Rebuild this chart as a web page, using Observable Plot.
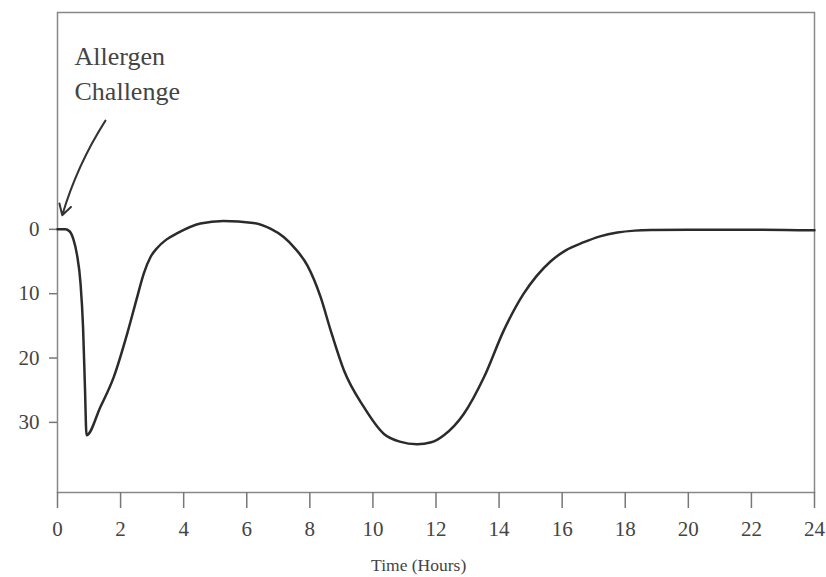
<!DOCTYPE html>
<html>
<head>
<meta charset="utf-8">
<script src="https://cdn.jsdelivr.net/npm/d3@7"></script>
<script src="https://cdn.jsdelivr.net/npm/@observablehq/plot@0.6"></script>
<style>
  html, body { margin: 0; padding: 0; background: #fff; }
  #chart svg { display: block; }
</style>
</head>
<body>
<div id="chart"></div>
<script>
// Time in hours after allergen challenge
const hours = [0, 0.25, 0.38, 0.5, 0.62, 0.73, 0.81, 0.87, 0.92, 1.36, 1.78, 2.21, 2.5, 2.74, 2.95, 3.16, 3.45, 3.8, 4.53, 5.26, 6.21, 6.75, 7.17, 7.5, 7.92, 8.34, 8.66, 9.08, 9.71, 10.35, 10.85, 11.4, 11.85, 12.25, 12.88, 13.52, 14.15, 14.78, 15.2, 15.63, 16.1, 16.69, 17.2, 17.75, 18.3, 18.8, 20, 22, 24];
// Fall in lung function (plotted downward)
const fall = [0, 0, 0.3, 1.5, 4, 8.4, 15.2, 24.5, 32, 27.6, 23, 16.2, 11, 6.8, 4.3, 2.9, 1.6, 0.6, -0.9, -1.3, -1.0, -0.1, 1.2, 2.8, 5.6, 10.5, 15.7, 21.9, 27.6, 31.8, 33.0, 33.4, 33.1, 32, 28.7, 23, 15.7, 10, 7.2, 5.0, 3.3, 2.0, 1.1, 0.5, 0.2, 0.1, 0.05, 0.05, 0.15];
const xTicks = [0, 2, 4, 6, 8, 10, 12, 14, 16, 18, 20, 22, 24];
const yTicks = [0, 10, 20, 30];
const xLabel = "Time (Hours)";
const annotation = "Allergen\nChallenge";

const data = hours.map((t, i) => ({t, v: fall[i]}));

const chart = Plot.plot({
  width: 826,
  height: 577,
  marginLeft: 57,
  marginRight: 12,
  marginTop: 12,
  marginBottom: 85,
  style: {fontFamily: "'Liberation Serif', serif", fontSize: "21px", color: "#444", background: "#fff"},
  x: {domain: [0, 24]},
  y: {domain: [-33.7, 40.9], reverse: true},
  marks: [
    Plot.frame({stroke: "#888", strokeWidth: 1.5}),
    Plot.axisX({ticks: xTicks, tickSize: 16, tickPadding: 13, stroke: "#777", strokeWidth: 1.5, label: null, fill: "#444"}),
    Plot.axisY({ticks: yTicks, tickSize: 8, tickPadding: 10, stroke: "#777", strokeWidth: 1.5, label: null, fill: "#444"}),
    Plot.line(data, {x: "t", y: "v", curve: "monotone-x", stroke: "#2b2b2b", strokeWidth: 2.5}),
    Plot.arrow([{x1: 1.52, y1: -16.9, x2: 0.15, y2: -2.2}], {
      x1: "x1", y1: "y1", x2: "x2", y2: "y2",
      bend: -8, stroke: "#333", strokeWidth: 2, headLength: 9
    }),
    Plot.text([annotation], {
      x: 0.54, y: -24.6, text: d => d, textAnchor: "start", lineAnchor: "middle",
      lineHeight: 1.35, fontSize: 26, fill: "#444"
    }),
    Plot.text([xLabel], {
      x: 11.45, frameAnchor: "bottom", dy: 78, text: d => d,
      fontSize: 17.5, fill: "#444"
    })
  ]
});
document.getElementById("chart").appendChild(chart);
</script>
</body>
</html>
